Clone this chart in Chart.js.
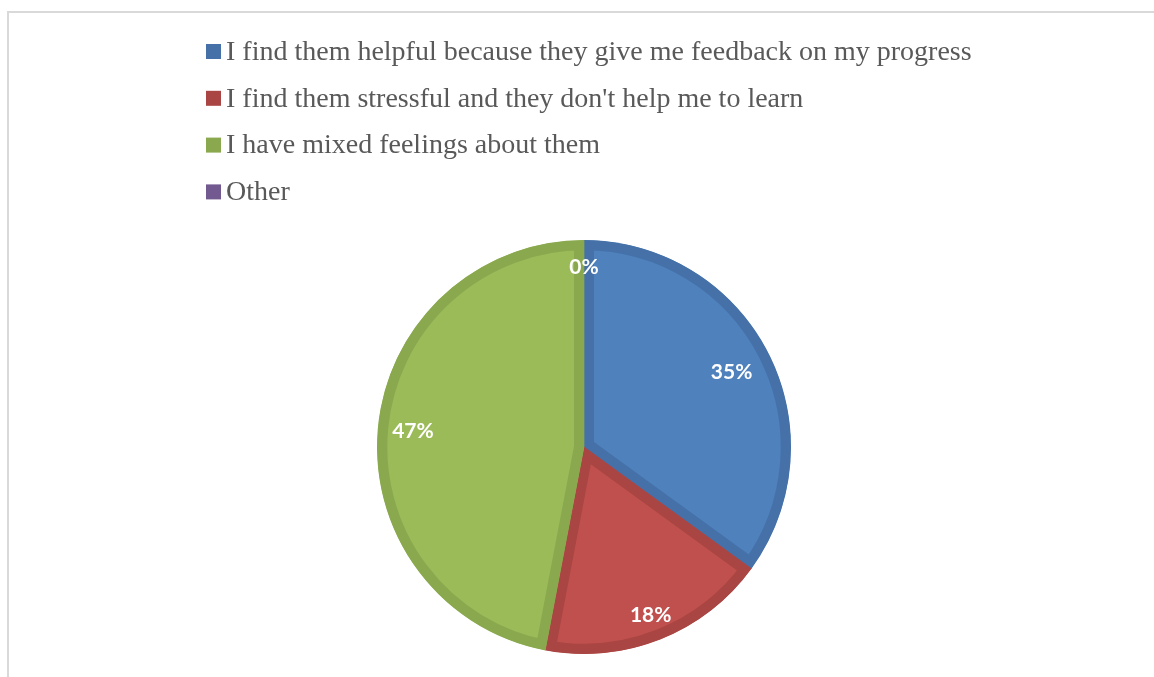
<!DOCTYPE html>
<html>
<head>
<meta charset="utf-8">
<script src="https://cdn.jsdelivr.net/npm/chart.js@4/dist/chart.umd.min.js"></script>
<style>
  html, body { margin: 0; padding: 0; background: #fff; overflow: hidden; }
  #wrap { position: relative; width: 1154px; height: 677px; }
  #frame {
    position: absolute; left: 7px; top: 11px;
    width: 1300px; height: 800px;
    border: 2px solid #d9d9d9;
  }
  #feedbackPie { position: absolute; left: 0; top: 0; }
</style>
</head>
<body>
<div id="wrap">
  <div id="frame"></div>
  <canvas id="feedbackPie" width="1154" height="677"></canvas>
</div>
<script>
const categories = [
  "I find them helpful because they give me feedback on my progress",
  "I find them stressful and they don't help me to learn",
  "I have mixed feelings about them",
  "Other",
];
const shares = [35, 18, 47, 0];

const fillColors = ["#4f81bd", "#c0504d", "#9bbb59", "#8064a2"];
const edgeColors = ["#4571a8", "#a94542", "#8aa94f", "#72598f"];

// legend: one entry per line, square swatch then serif text
const stackedLegend = {
  id: "stackedLegend",
  afterDraw(chart, args, opts) {
    const ctx = chart.ctx;
    ctx.save();
    ctx.font = opts.font;
    ctx.textBaseline = "middle";
    ctx.textAlign = "left";
    chart.data.labels.forEach((label, i) => {
      const y = opts.top + i * opts.lineHeight;
      ctx.fillStyle = edgeColors[i];
      ctx.fillRect(opts.x, y - opts.box / 2, opts.box, opts.box);
      ctx.fillStyle = opts.color;
      ctx.fillText(label, opts.x + opts.box + opts.gap, y + 1);
    });
    ctx.restore();
  },
};

// percentage labels placed along each slice's mid angle
const sliceLabels = {
  id: "sliceLabels",
  afterDatasetsDraw(chart, args, opts) {
    const ctx = chart.ctx;
    const meta = chart.getDatasetMeta(0);
    ctx.save();
    ctx.font = opts.font;
    ctx.fillStyle = opts.color;
    ctx.textAlign = "center";
    ctx.textBaseline = "middle";
    meta.data.forEach((arc, i) => {
      const p = arc.getProps(["x", "y", "startAngle", "endAngle", "outerRadius"], true);
      const mid = (p.startAngle + p.endAngle) / 2;
      const r = p.outerRadius * opts.radial[i];
      const value = chart.data.datasets[0].data[i];
      ctx.fillText(value + "%", p.x + Math.cos(mid) * r, p.y + Math.sin(mid) * r);
    });
    ctx.restore();
  },
};

new Chart(document.getElementById("feedbackPie"), {
  type: "pie",
  data: {
    labels: categories,
    datasets: [
      {
        data: shares,
        backgroundColor: fillColors,
        borderColor: edgeColors,
        borderWidth: 10,
        borderAlign: "inner",
      },
    ],
  },
  options: {
    responsive: false,
    animation: false,
    layout: { padding: { top: 240, bottom: 23, left: 14, right: 0 } },
    plugins: {
      legend: { display: false },
      tooltip: { enabled: false },
      stackedLegend: {
        x: 206,
        top: 51.5,
        lineHeight: 46.8,
        box: 15,
        gap: 5,
        font: "28px 'Liberation Serif'",
        color: "#595959",
      },
      sliceLabels: {
        font: "bold 21px Lato",
        color: "#ffffff",
        radial: [0.8, 0.875, 0.83, 0.87],
      },
    },
  },
  plugins: [stackedLegend, sliceLabels],
});
</script>
</body>
</html>
